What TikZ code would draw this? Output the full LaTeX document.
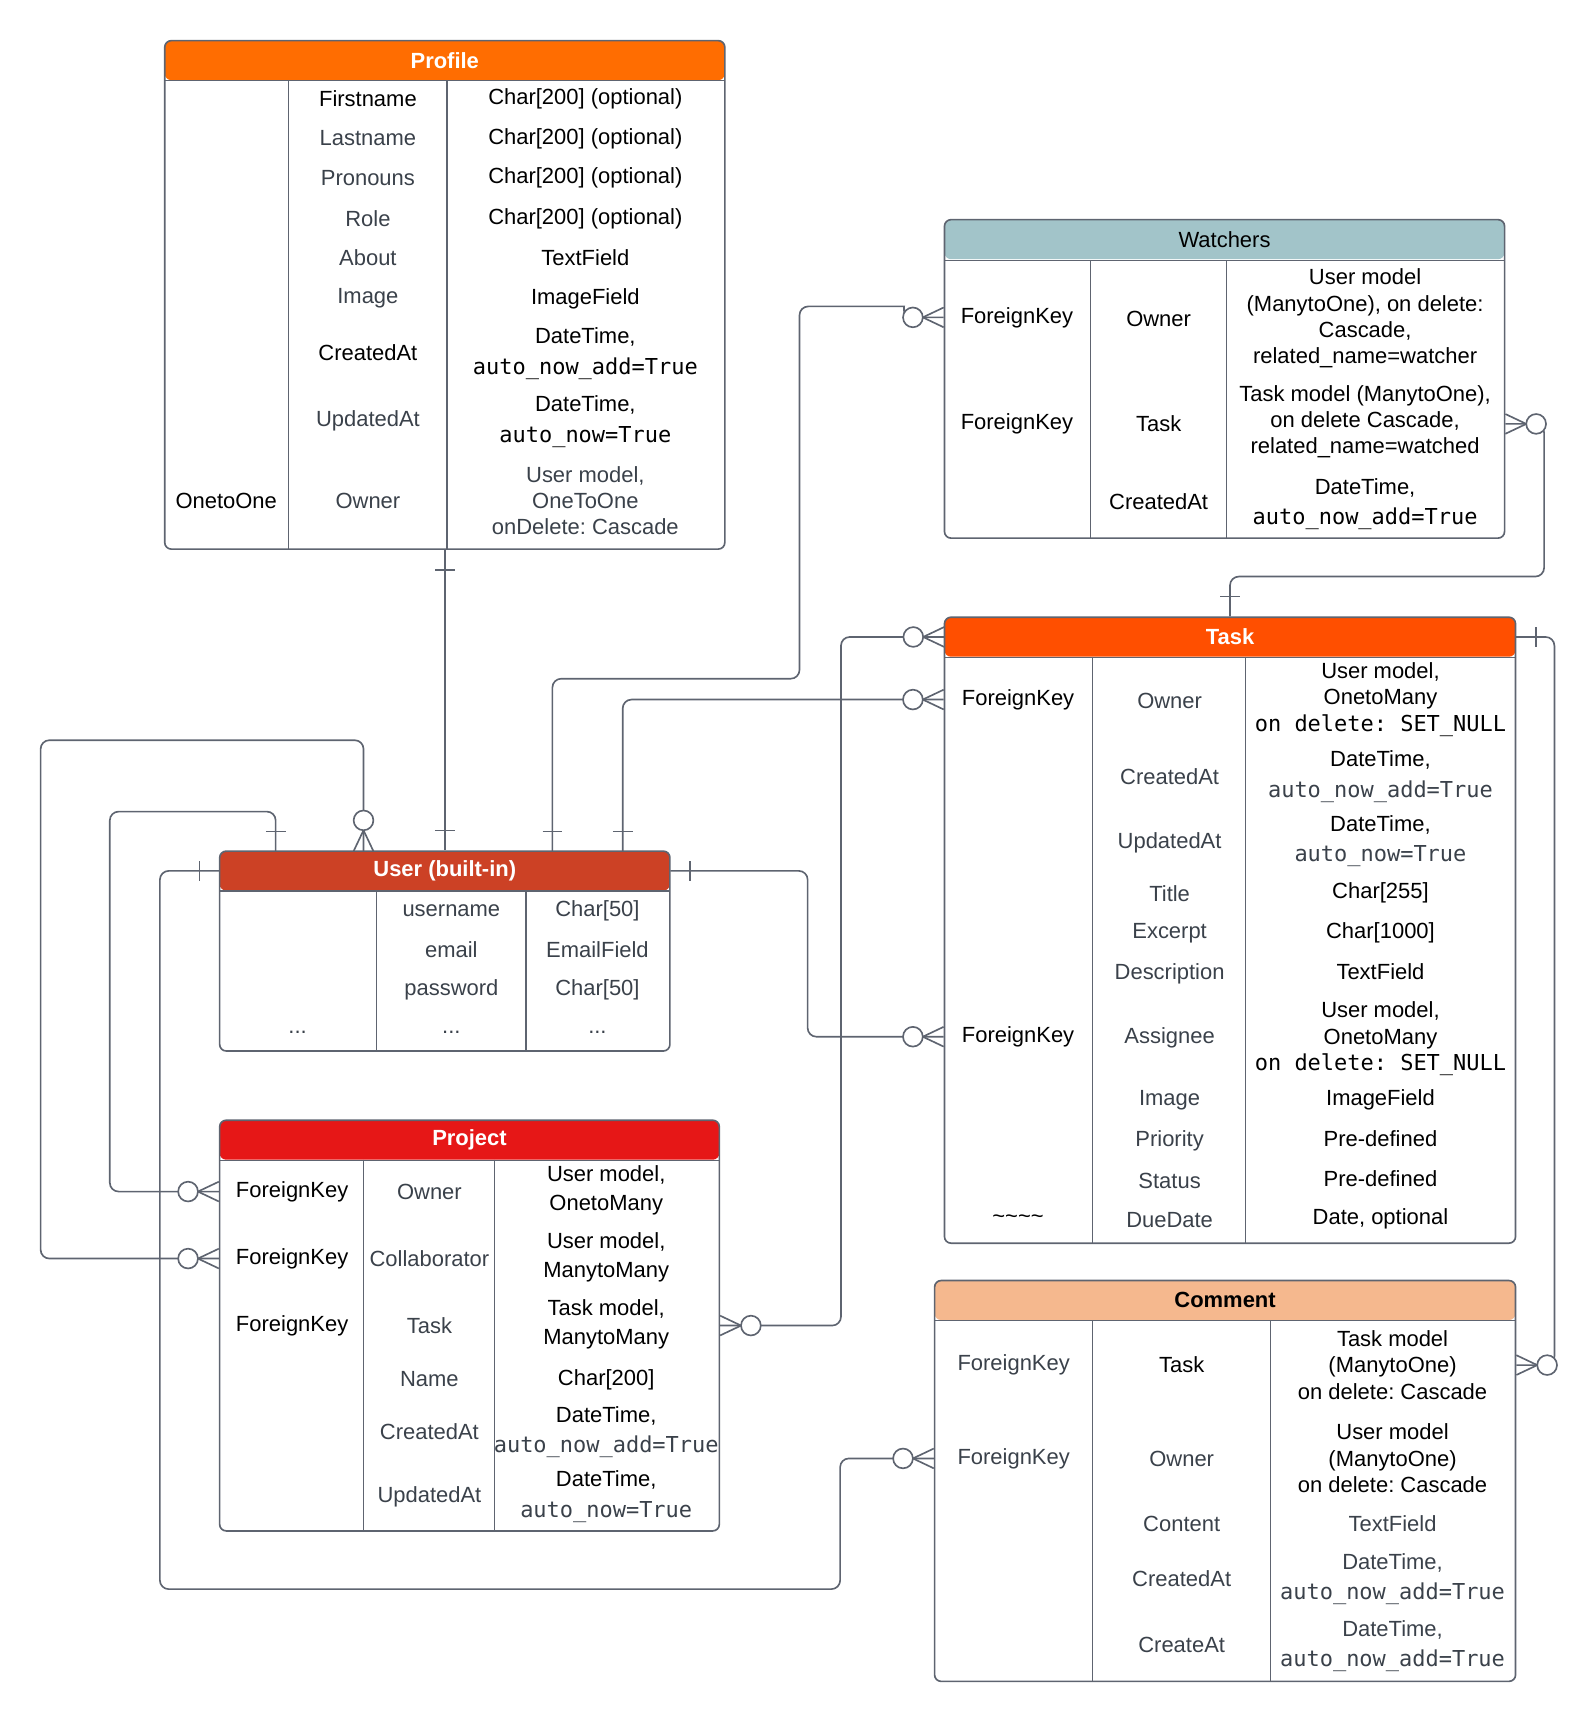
\documentclass[tikz,border=0pt]{standalone}
\usepackage{fontspec}
\setmainfont{Liberation Sans}
\setmonofont{DejaVu Sans Mono}
\usepackage{xcolor}
\usepackage{tikz}
\usetikzlibrary{fit}
\frenchspacing

\definecolor{linegray}{HTML}{5E6470}
\definecolor{txtgray}{HTML}{3A414A}
\definecolor{profilecol}{HTML}{FF6D01}
\definecolor{watchcol}{HTML}{A2C4C9}
\definecolor{taskcol}{HTML}{FF4F00}
\definecolor{usercol}{HTML}{CC4125}
\definecolor{projcol}{HTML}{E61717}
\definecolor{commcol}{HTML}{F5B88E}

\begin{document}
\begin{tikzpicture}[
    x=0.5pt, y=-0.5pt,
    font=\fontsize{10}{12}\selectfont,
    tbl/.style={draw=linegray, line width=0.75pt, rounded corners=3pt, inner sep=0pt,
        path picture={\fill[#1] (path picture bounding box.north west) rectangle ([yshift=-18pt]path picture bounding box.north east);}},
    head/.style={inner sep=0pt, minimum height=18pt, minimum width=#1, font=\fontsize{10}{12}\selectfont\bfseries, text=white},
    grid/.style={draw=linegray, line width=0.6pt},
    cell/.style={align=center, inner sep=0pt},
    gcell/.style={cell, text=txtgray},
    conn/.style={draw=linegray, line width=0.75pt, rounded corners=4pt},
    zmany/.pic={
        \draw[draw=linegray, line width=0.75pt] (0,-9) -- (19,0) -- (0,9);
        \draw[draw=linegray, line width=0.75pt, fill=white] (28,0) circle[radius=4.5pt];},
    one/.pic={\draw[draw=linegray, line width=0.75pt] (18,-9) -- (18,9);}
]
    \useasboundingbox (0,0) rectangle (1453,1568);

    % Profile
    \node (profile) [tbl=profilecol, fit={(150,37) (660,500)}] {};
    \node (profile-head) [head=255pt] at (405,55) {Profile};
    \draw[grid] (profile-head.south west) -- (profile-head.south east);
    \draw[grid] (263,73) -- (263,500);
    \draw[grid] (407,73) -- (407,500);
    \node (pf-first) [cell] at (335,90) {Firstname};
    \node (pf-firstv) [cell] at (533,90) {Char[200] (optional)};
    \node (pf-last) [gcell] at (335,126) {Lastname};
    \node (pf-lastv) [cell] at (533,126) {Char[200] (optional)};
    \node (pf-pron) [gcell] at (335,162) {Pronouns};
    \node (pf-pronv) [cell] at (533,162) {Char[200] (optional)};
    \node (pf-role) [gcell] at (335,199) {Role};
    \node (pf-rolev) [cell] at (533,199) {Char[200] (optional)};
    \node (pf-about) [gcell] at (335,235) {About};
    \node (pf-aboutv) [cell] at (533,235) {TextField};
    \node (pf-image) [gcell] at (335,272) {Image};
    \node (pf-imagev) [cell] at (533,272) {ImageField};
    \node (pf-created) [cell] at (335,321) {CreatedAt};
    \node (pf-createdv) [cell] at (533,322) {DateTime,\\[2pt]\texttt{auto\_now\_add=True}};
    \node (pf-updated) [gcell] at (335,383) {UpdatedAt};
    \node (pf-updatedv) [cell] at (533,384) {DateTime,\\[2pt]\texttt{auto\_now=True}};
    \node (pf-key) [cell] at (206,456) {OnetoOne};
    \node (pf-owner) [gcell] at (335,456) {Owner};
    \node (pf-ownerv) [gcell] at (533,456) {User model,\\OneToOne\\onDelete: Cascade};

    % Watchers
    \node (watchers) [tbl=watchcol, fit={(860,200) (1370,490)}] {};
    \node (watchers-head) [head=255pt, font=\fontsize{10}{12}\selectfont, text=black] at (1115,218.5) {Watchers};
    \draw[grid] (watchers-head.south west) -- (watchers-head.south east);
    \draw[grid] (993,237) -- (993,490);
    \draw[grid] (1117,237) -- (1117,490);
    \node (wa-fk1) [cell] at (926,289) {ForeignKey};
    \node (wa-owner) [cell] at (1055,290) {Owner};
    \node (wa-ownerv) [cell] at (1243,290) {User model\\(ManytoOne), on delete:\\Cascade,\\related\_name=watcher};
    \node (wa-fk2) [cell] at (926,386) {ForeignKey};
    \node (wa-task) [cell] at (1055,386) {Task};
    \node (wa-taskv) [cell] at (1243,384) {Task model (ManytoOne),\\on delete Cascade,\\related\_name=watched};
    \node (wa-created) [cell] at (1055,457) {CreatedAt};
    \node (wa-createdv) [cell] at (1243,459) {DateTime,\\[2pt]\texttt{auto\_now\_add=True}};

    % Task
    \node (task) [tbl=taskcol, fit={(860,562) (1380,1132)}] {};
    \node (task-head) [head=260pt] at (1120,580) {Task};
    \draw[grid] (task-head.south west) -- (task-head.south east);
    \draw[grid] (995,598) -- (995,1132);
    \draw[grid] (1134,598) -- (1134,1132);
    \node (ta-fk1) [cell] at (927,637) {ForeignKey};
    \node (ta-owner) [gcell] at (1065,638) {Owner};
    \node (ta-ownerv) [cell] at (1257,637) {User model,\\OnetoMany\\\texttt{on delete: SET\_NULL}};
    \node (ta-created) [gcell] at (1065,707) {CreatedAt};
    \node (ta-createdv) [cell] at (1257,707) {DateTime,\\[2pt]\textcolor{txtgray}{\texttt{auto\_now\_add=True}}};
    \node (ta-updated) [gcell] at (1065,767) {UpdatedAt};
    \node (ta-updatedv) [cell] at (1257,766) {DateTime,\\[2pt]\textcolor{txtgray}{\texttt{auto\_now=True}}};
    \node (ta-title) [gcell] at (1065,814) {Title};
    \node (ta-titlev) [cell] at (1257,813) {Char[255]};
    \node (ta-excerpt) [gcell] at (1065,850) {Excerpt};
    \node (ta-excerptv) [cell] at (1257,849) {Char[1000]};
    \node (ta-desc) [gcell] at (1065,887) {Description};
    \node (ta-descv) [cell] at (1257,885) {TextField};
    \node (ta-fk2) [cell] at (927,944) {ForeignKey};
    \node (ta-assignee) [gcell] at (1065,945) {Assignee};
    \node (ta-assigneev) [cell] at (1257,946) {User model,\\OnetoMany\\\texttt{on delete: SET\_NULL}};
    \node (ta-image) [gcell] at (1065,1002) {Image};
    \node (ta-imagev) [cell] at (1257,1001) {ImageField};
    \node (ta-priority) [gcell] at (1065,1039) {Priority};
    \node (ta-priorityv) [cell] at (1257,1037) {Pre-defined};
    \node (ta-status) [gcell] at (1065,1075) {Status};
    \node (ta-statusv) [cell] at (1257,1073) {Pre-defined};
    \node (ta-tilde) [cell] at (927,1110) {\textasciitilde\textasciitilde\textasciitilde\textasciitilde};
    \node (ta-due) [gcell] at (1065,1111) {DueDate};
    \node (ta-duev) [cell] at (1257,1110) {Date, optional};

    % User
    \node (user) [tbl=usercol, fit={(200,775) (610,957)}] {};
    \node (user-head) [head=205pt] at (405,793) {User (built-in)};
    \draw[grid] (user-head.south west) -- (user-head.south east);
    \draw[grid] (343,811) -- (343,957);
    \draw[grid] (479,811) -- (479,957);
    \node (us-name) [gcell] at (411,829) {username};
    \node (us-namev) [gcell] at (544,829) {Char[50]};
    \node (us-email) [gcell] at (411,865) {email};
    \node (us-emailv) [gcell] at (544,865) {EmailField};
    \node (us-pass) [gcell] at (411,901) {password};
    \node (us-passv) [gcell] at (544,901) {Char[50]};
    \node (us-more1) [gcell] at (271,940) {...};
    \node (us-more2) [gcell] at (411,940) {...};
    \node (us-more3) [gcell] at (544,940) {...};
    \coordinate (us-in1) at (251,775);
    \coordinate (us-in2) at (331,775);
    \coordinate (us-in3) at (503,775);
    \coordinate (us-in4) at (567,775);

    % Project
    \node (project) [tbl=projcol, fit={(200,1020) (655,1394)}] {};
    \node (project-head) [head=227.5pt] at (427.5,1038) {Project};
    \draw[grid] (project-head.south west) -- (project-head.south east);
    \draw[grid] (331,1056) -- (331,1394);
    \draw[grid] (450,1056) -- (450,1394);
    \node (pj-fk1) [cell] at (266,1085) {ForeignKey};
    \node (pj-owner) [gcell] at (391,1085) {Owner};
    \node (pj-ownerv) [cell] at (552,1084) {User model,\\[1.5pt]OnetoMany};
    \node (pj-fk2) [cell] at (266,1146) {ForeignKey};
    \node (pj-collab) [gcell] at (391,1146) {Collaborator};
    \node (pj-collabv) [cell] at (552,1145) {User model,\\[1.5pt]ManytoMany};
    \node (pj-fk3) [cell] at (266,1207) {ForeignKey};
    \node (pj-task) [gcell] at (391,1207) {Task};
    \node (pj-taskv) [cell] at (552,1206) {Task model,\\[1.5pt]ManytoMany};
    \node (pj-name) [gcell] at (391,1256) {Name};
    \node (pj-namev) [cell] at (552,1256) {Char[200]};
    \node (pj-created) [gcell] at (391,1304) {CreatedAt};
    \node (pj-createdv) [cell] at (552,1304) {DateTime,\\[2pt]\textcolor{txtgray}{\texttt{auto\_now\_add=True}}};
    \node (pj-updated) [gcell] at (391,1363) {UpdatedAt};
    \node (pj-updatedv) [cell] at (552,1363) {DateTime,\\[2pt]\textcolor{txtgray}{\texttt{auto\_now=True}}};

    % Comment
    \node (comment) [tbl=commcol, fit={(851,1166) (1380,1531)}] {};
    \node (comment-head) [head=264.5pt, text=black] at (1115.5,1184) {Comment};
    \draw[grid] (comment-head.south west) -- (comment-head.south east);
    \draw[grid] (995,1202) -- (995,1531);
    \draw[grid] (1157,1202) -- (1157,1531);
    \node (co-fk1) [gcell] at (923,1243) {ForeignKey};
    \node (co-task) [cell] at (1076,1243) {Task};
    \node (co-taskv) [cell] at (1268,1243) {Task model\\(ManytoOne)\\on delete: Cascade};
    \node (co-fk2) [gcell] at (923,1328) {ForeignKey};
    \node (co-owner) [gcell] at (1076,1328) {Owner};
    \node (co-ownerv) [cell] at (1268,1328) {User model\\(ManytoOne)\\on delete: Cascade};
    \node (co-content) [gcell] at (1076,1388) {Content};
    \node (co-contentv) [gcell] at (1268,1387) {TextField};
    \node (co-created) [gcell] at (1076,1437) {CreatedAt};
    \node (co-createdv) [gcell] at (1268,1438) {DateTime,\\[2pt]\texttt{auto\_now\_add=True}};
    \node (co-create) [gcell] at (1076,1498) {CreateAt};
    \node (co-createv) [gcell] at (1268,1499) {DateTime,\\[2pt]\texttt{auto\_now\_add=True}};

    % Relations
    \draw[conn] (profile) -- (user);
    \draw[conn] (watchers.west |- wa-fk1) -- ++(-28,0) to[out=180,in=0] ++(-16,-10) -| (728,618) -| (us-in3);
    \draw[conn] (task.west |- ta-fk1) -| (us-in4);
    \draw[conn] (project.east |- pj-fk3) -- ++(110,0) |- (task-head.west);
    \draw[conn] (user-head.east) -- ++(125,0) |- (task.west |- ta-fk2);
    \draw[conn] (user-head.west) -- ++(-54,0) |- (765,1447) |- (comment.west |- co-fk2);
    \draw[conn] (us-in1) |- (100,739) |- (project.west |- pj-fk1);
    \draw[conn] (us-in2) |- (37,674) |- (project.west |- pj-fk2);
    \draw[conn] (task.north) |- (1406,525) |- (watchers.east |- wa-fk2);
    \draw[conn] (task-head.east) -- ++(35,0) |- (comment.east |- co-fk1);

    % Ends
    \pic[rotate=-90] at (profile.south) {one};
    \pic[rotate=90] at (user.north) {one};
    \pic[rotate=180] at (watchers.west |- wa-fk1) {zmany};
    \pic[rotate=90] at (us-in3) {one};
    \pic[rotate=180] at (task.west |- ta-fk1) {zmany};
    \pic[rotate=90] at (us-in4) {one};
    \pic at (project.east |- pj-fk3) {zmany};
    \pic[rotate=180] at (task-head.west) {zmany};
    \pic at (user-head.east) {one};
    \pic[rotate=180] at (task.west |- ta-fk2) {zmany};
    \pic[rotate=180] at (user-head.west) {one};
    \pic[rotate=180] at (comment.west |- co-fk2) {zmany};
    \pic[rotate=90] at (us-in1) {one};
    \pic[rotate=180] at (project.west |- pj-fk1) {zmany};
    \pic[rotate=90] at (us-in2) {zmany};
    \pic[rotate=180] at (project.west |- pj-fk2) {zmany};
    \pic[rotate=90] at (task.north) {one};
    \pic at (watchers.east |- wa-fk2) {zmany};
    \pic at (task-head.east) {one};
    \pic at (comment.east |- co-fk1) {zmany};

\end{tikzpicture}
\end{document}
